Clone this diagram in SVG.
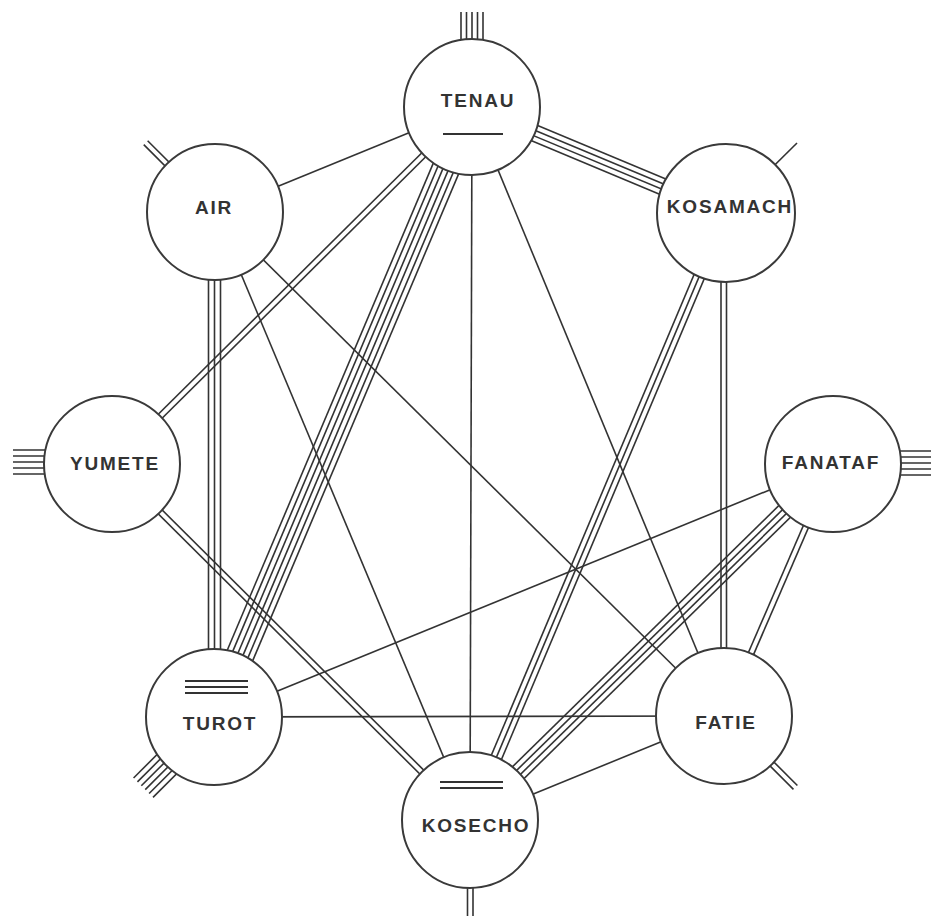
<svg xmlns="http://www.w3.org/2000/svg" width="945" height="918" viewBox="0 0 945 918">
<style>
.c line{stroke:#333;stroke-width:1.6;fill:none}
.n circle{fill:#fff;stroke:#3a3a3a;stroke-width:2}
.n text{font-family:"Liberation Sans",Arial,sans-serif;font-weight:bold;font-size:19px;letter-spacing:1.8px;fill:#333;text-anchor:middle}
.n line{stroke:#333;stroke-width:1.8}
</style>
<rect width="945" height="918" fill="#fff"/>
<g id="connectors" class="c">
  <!-- TENAU - AIR -->
  <line x1="472" y1="107" x2="215" y2="212"/>
  <!-- TENAU - KOSECHO -->
  <line x1="472" y1="107" x2="470" y2="820"/>
  <!-- TENAU - FATIE -->
  <line x1="472" y1="107" x2="724" y2="716"/>
  <!-- AIR - KOSECHO -->
  <line x1="215" y1="212" x2="470" y2="820"/>
  <!-- AIR - FATIE -->
  <line x1="215" y1="212" x2="724" y2="716"/>
  <!-- FANATAF - TUROT -->
  <line x1="833" y1="464" x2="214" y2="717"/>
  <!-- TUROT - FATIE -->
  <line x1="214" y1="717" x2="724" y2="716"/>
  <!-- FATIE - KOSECHO -->
  <line x1="724" y1="716" x2="470" y2="820"/>
  <!-- TENAU - TUROT (6) -->
  <g transform="translate(472,107) rotate(112.93)">
    <line x1="0" y1="-13.75" x2="663" y2="-13.75"/>
    <line x1="0" y1="-8.25" x2="663" y2="-8.25"/>
    <line x1="0" y1="-2.75" x2="663" y2="-2.75"/>
    <line x1="0" y1="2.75" x2="663" y2="2.75"/>
    <line x1="0" y1="8.25" x2="663" y2="8.25"/>
    <line x1="0" y1="13.75" x2="663" y2="13.75"/>
  </g>
  <!-- TENAU - KOSAMACH (4) -->
  <g transform="translate(472,107) rotate(22.65)">
    <line x1="0" y1="-8.25" x2="276" y2="-8.25"/>
    <line x1="0" y1="-2.75" x2="276" y2="-2.75"/>
    <line x1="0" y1="2.75" x2="276" y2="2.75"/>
    <line x1="0" y1="8.25" x2="276" y2="8.25"/>
  </g>
  <!-- TENAU - YUMETE (2) -->
  <g transform="translate(472,107) rotate(135.24)">
    <line x1="0" y1="-2.75" x2="507" y2="-2.75"/>
    <line x1="0" y1="2.75" x2="507" y2="2.75"/>
  </g>
  <!-- AIR - TUROT (3) -->
  <line x1="208.5" y1="212" x2="208.5" y2="717"/>
  <line x1="214.5" y1="212" x2="214.5" y2="717"/>
  <line x1="220.5" y1="212" x2="220.5" y2="717"/>
  <!-- YUMETE - KOSECHO (2) -->
  <g transform="translate(112,464) rotate(44.84)">
    <line x1="0" y1="-2.75" x2="505" y2="-2.75"/>
    <line x1="0" y1="2.75" x2="505" y2="2.75"/>
  </g>
  <!-- FANATAF - KOSECHO (4) -->
  <g transform="translate(833,464) rotate(135.56)">
    <line x1="0" y1="-8.25" x2="509" y2="-8.25"/>
    <line x1="0" y1="-2.75" x2="509" y2="-2.75"/>
    <line x1="0" y1="2.75" x2="509" y2="2.75"/>
    <line x1="0" y1="8.25" x2="509" y2="8.25"/>
  </g>
  <!-- FANATAF - FATIE (2) -->
  <g transform="translate(833,464) rotate(113.40)">
    <line x1="0" y1="-2.75" x2="275" y2="-2.75"/>
    <line x1="0" y1="2.75" x2="275" y2="2.75"/>
  </g>
  <!-- KOSAMACH - KOSECHO (3) -->
  <g transform="translate(726,213) rotate(112.87)">
    <line x1="0" y1="-5.5" x2="659" y2="-5.5"/>
    <line x1="0" y1="0" x2="659" y2="0"/>
    <line x1="0" y1="5.5" x2="659" y2="5.5"/>
  </g>
  <!-- KOSAMACH - FATIE (2) -->
  <line x1="721" y1="213" x2="721" y2="716"/>
  <line x1="726.5" y1="213" x2="726.5" y2="716"/>
  <!-- stubs -->
  <line x1="461" y1="107" x2="461" y2="12"/>
  <line x1="466.5" y1="107" x2="466.5" y2="12"/>
  <line x1="472" y1="107" x2="472" y2="12"/>
  <line x1="477.5" y1="107" x2="477.5" y2="12"/>
  <line x1="483" y1="107" x2="483" y2="12"/>
  <g transform="translate(215,212) rotate(225)">
    <line x1="0" y1="-2.75" x2="98" y2="-2.75"/>
    <line x1="0" y1="2.75" x2="98" y2="2.75"/>
  </g>
  <line x1="726" y1="213" x2="797" y2="143"/>
  <line x1="13" y1="450" x2="112" y2="450"/>
  <line x1="13" y1="456" x2="112" y2="456"/>
  <line x1="13" y1="462" x2="112" y2="462"/>
  <line x1="13" y1="468" x2="112" y2="468"/>
  <line x1="13" y1="474" x2="112" y2="474"/>
  <line x1="833" y1="451" x2="931" y2="451"/>
  <line x1="833" y1="457" x2="931" y2="457"/>
  <line x1="833" y1="463" x2="931" y2="463"/>
  <line x1="833" y1="469" x2="931" y2="469"/>
  <line x1="833" y1="475" x2="931" y2="475"/>
  <g transform="translate(214,717) rotate(135)">
    <line x1="0" y1="-13.75" x2="100" y2="-13.75"/>
    <line x1="0" y1="-8.25" x2="100" y2="-8.25"/>
    <line x1="0" y1="-2.75" x2="100" y2="-2.75"/>
    <line x1="0" y1="2.75" x2="100" y2="2.75"/>
    <line x1="0" y1="8.25" x2="100" y2="8.25"/>
    <line x1="0" y1="13.75" x2="100" y2="13.75"/>
  </g>
  <g transform="translate(724,716) rotate(45)">
    <line x1="0" y1="-2.75" x2="101" y2="-2.75"/>
    <line x1="0" y1="2.75" x2="101" y2="2.75"/>
  </g>
  <line x1="467.5" y1="820" x2="467.5" y2="916"/>
  <line x1="473" y1="820" x2="473" y2="916"/>
</g>
<g id="TENAU" class="n">
  <circle cx="472" cy="107" r="68"/>
  <text x="478" y="107">TENAU</text>
  <line x1="443" y1="134" x2="503" y2="134"/>
</g>
<g id="AIR" class="n">
  <circle cx="215" cy="212" r="68"/>
  <text x="214" y="214">AIR</text>
</g>
<g id="KOSAMACH" class="n">
  <circle cx="726" cy="213" r="69"/>
  <text x="730" y="213">KOSAMACH</text>
</g>
<g id="YUMETE" class="n">
  <circle cx="112" cy="464" r="68"/>
  <text x="115" y="470">YUMETE</text>
</g>
<g id="FANATAF" class="n">
  <circle cx="833" cy="464" r="68"/>
  <text x="831" y="469">FANATAF</text>
</g>
<g id="TUROT" class="n">
  <circle cx="214" cy="717" r="68"/>
  <line x1="185" y1="681" x2="248" y2="681"/>
  <line x1="185" y1="687" x2="248" y2="687"/>
  <line x1="185" y1="693" x2="248" y2="693"/>
  <text x="220" y="730">TUROT</text>
</g>
<g id="FATIE" class="n">
  <circle cx="724" cy="716" r="68"/>
  <text x="726" y="729">FATIE</text>
</g>
<g id="KOSECHO" class="n">
  <circle cx="470" cy="820" r="68"/>
  <line x1="440" y1="782" x2="503" y2="782"/>
  <line x1="440" y1="788" x2="503" y2="788"/>
  <text x="476" y="832">KOSECHO</text>
</g>
</svg>
